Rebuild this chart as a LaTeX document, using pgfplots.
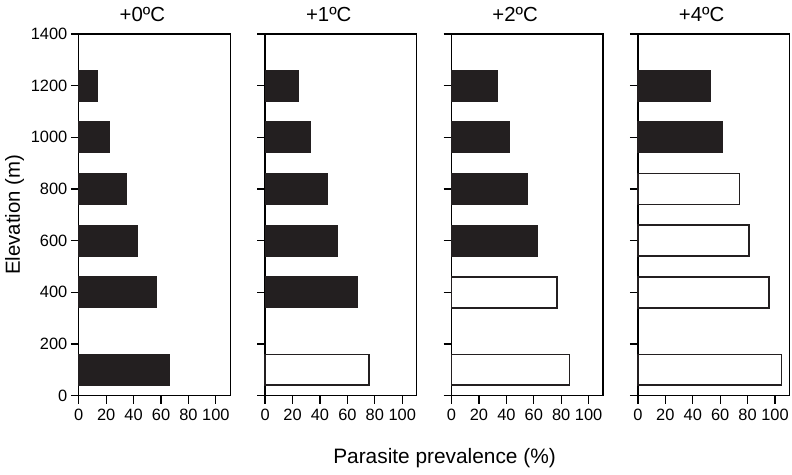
\documentclass[border=0pt]{standalone}
\usepackage{pgfplots}
\pgfplotsset{compat=1.18}
\usepgfplotslibrary{groupplots}
\usepackage{fontspec}
\setmainfont{Liberation Sans}
\definecolor{barblack}{HTML}{231F20}
\begin{document}
\begin{tikzpicture}
\begin{groupplot}[
  group style={group size=4 by 1, horizontal sep=35bp, yticklabels at=edge left},
  scale only axis,
  width=152bp, height=363bp,
  xmin=0, xmax=110.5, ymin=0, ymax=1400,
  xtick={0,20,40,60,80,100},
  ytick={0,200,...,1400},
  xtick pos=bottom, ytick pos=left,
  tick align=outside,
  major tick length=8bp,
  axis line style={line width=1.5bp},
  every tick/.style={black, line width=1.3bp},
  /pgf/number format/assume math mode=true,
  tick label style={font=\fontsize{16.5}{19}\selectfont},
  yticklabel style={/pgf/number format/1000 sep={}},
  xticklabel style={yshift=-2bp},
  title style={font=\fontsize{20.5}{24}\selectfont, at={(rel axis cs:0.42,1)}, anchor=south, yshift=3bp},
  xbar, /pgf/bar shift=0pt, /pgf/bar width=31bp,
  clip=false,
]
\nextgroupplot[title={+0ºC}, ylabel={Elevation (m)}, ylabel style={font=\fontsize{20.5}{24}\selectfont}]
\addplot[fill=barblack, draw=barblack, line width=1bp] coordinates {(66,100) (57,400) (42.5,600) (35,800) (22.5,1000) (13.6,1200)};
\nextgroupplot[title={+1ºC}]
\addplot[fill=barblack, draw=barblack, line width=1bp] coordinates {(67,400) (53,600) (45.5,800) (33,1000) (24,1200)};
\addplot[fill=white, draw=barblack, line width=1.7bp] coordinates {(76,100)};
\nextgroupplot[title={+2ºC}]
\addplot[fill=barblack, draw=barblack, line width=1bp] coordinates {(63,600) (55.5,800) (42.5,1000) (33.7,1200)};
\addplot[fill=white, draw=barblack, line width=1.7bp] coordinates {(77,400) (86,100)};
\nextgroupplot[title={+4ºC}]
\addplot[fill=barblack, draw=barblack, line width=1bp] coordinates {(61.4,1000) (52.6,1200)};
\addplot[fill=white, draw=barblack, line width=1.7bp] coordinates {(104.8,100) (95.8,400) (81.2,600) (74,800)};
\end{groupplot}
\node[font=\fontsize{21}{25}\selectfont, anchor=center] at ([xshift=367bp, yshift=-63bp]group c1r1.south west) {Parasite prevalence (\%)};
\path ([xshift=-79bp, yshift=-79bp]group c1r1.south west) rectangle ++(792bp,476bp);
\end{tikzpicture}
\end{document}
